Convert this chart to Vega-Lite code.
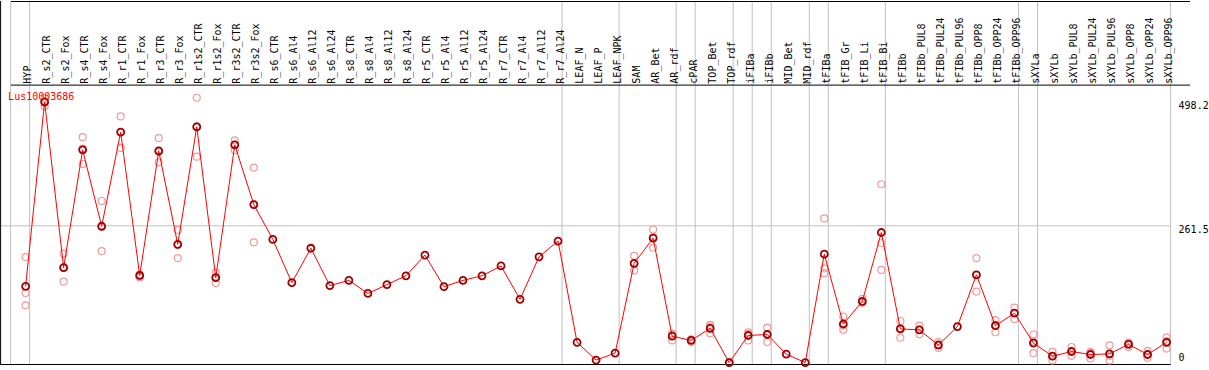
{
  "$schema": "https://vega.github.io/schema/vega-lite/v6.json",
  "width": 1209,
  "height": 370,
  "autosize": {"type": "fit", "contains": "padding"},
  "padding": 0,
  "background": "white",
  "config": {"view": {"stroke": null}},
  "datasets": {
    "means": [
      {"sample": "HYP", "mean": 145.8},
      {"sample": "R_s2_CTR", "mean": 498.2},
      {"sample": "R_s2_Fox", "mean": 181.5},
      {"sample": "R_s4_CTR", "mean": 406.7},
      {"sample": "R_s4_Fox", "mean": 260.6},
      {"sample": "R_r1_CTR", "mean": 440.6},
      {"sample": "R_r1_Fox", "mean": 166.5},
      {"sample": "R_r3_CTR", "mean": 404.9},
      {"sample": "R_r3_Fox", "mean": 226.1},
      {"sample": "R_r1s2_CTR", "mean": 450.6},
      {"sample": "R_r1s2_Fox", "mean": 162.2},
      {"sample": "R_r3s2_CTR", "mean": 416.1},
      {"sample": "R_r3s2_Fox", "mean": 302.0},
      {"sample": "R_s6_CTR", "mean": 235.5},
      {"sample": "R_s6_Al4", "mean": 152.8},
      {"sample": "R_s6_Al12", "mean": 218.6},
      {"sample": "R_s6_Al24", "mean": 147.1},
      {"sample": "R_s8_CTR", "mean": 157.1},
      {"sample": "R_s8_Al4", "mean": 132.1},
      {"sample": "R_s8_Al12", "mean": 149.0},
      {"sample": "R_s8_Al24", "mean": 165.9},
      {"sample": "R_r5_CTR", "mean": 205.4},
      {"sample": "R_r5_Al4", "mean": 145.2},
      {"sample": "R_r5_Al12", "mean": 157.1},
      {"sample": "R_r5_Al24", "mean": 165.9},
      {"sample": "R_r7_CTR", "mean": 184.7},
      {"sample": "R_r7_Al4", "mean": 120.8},
      {"sample": "R_r7_Al12", "mean": 202.2},
      {"sample": "R_r7_Al24", "mean": 232.3},
      {"sample": "LEAF_N", "mean": 38.6},
      {"sample": "LEAF_P", "mean": 4.7},
      {"sample": "LEAF_NPK", "mean": 17.9},
      {"sample": "SAM", "mean": 189.6},
      {"sample": "AR_Bet", "mean": 238.0},
      {"sample": "AR_rdf", "mean": 50.4},
      {"sample": "cPAR", "mean": 42.3},
      {"sample": "TOP_Bet", "mean": 65.5},
      {"sample": "TOP_rdf", "mean": 0},
      {"sample": "iFIBa", "mean": 51.7},
      {"sample": "iFIBb", "mean": 53.6},
      {"sample": "MID_Bet", "mean": 16.0},
      {"sample": "MID_rdf", "mean": 0},
      {"sample": "tFIBa", "mean": 207.3},
      {"sample": "tFIB_Gr", "mean": 73.7},
      {"sample": "tFIB_Li", "mean": 117.0},
      {"sample": "tFIB_Bi", "mean": 248.7},
      {"sample": "tFIBb", "mean": 64.3},
      {"sample": "tFIBb_PUL8", "mean": 62.5},
      {"sample": "tFIBb_PUL24", "mean": 33.5},
      {"sample": "tFIBb_PUL96", "mean": 68.7},
      {"sample": "tFIBb_OPP8", "mean": 167.8},
      {"sample": "tFIBb_OPP24", "mean": 70.5},
      {"sample": "tFIBb_OPP96", "mean": 94.4},
      {"sample": "sXYLa", "mean": 37.2},
      {"sample": "sXYLb", "mean": 12.2},
      {"sample": "sXYLb_PUL8", "mean": 21.1},
      {"sample": "sXYLb_PUL24", "mean": 15.4},
      {"sample": "sXYLb_PUL96", "mean": 16.6},
      {"sample": "sXYLb_OPP8", "mean": 34.8},
      {"sample": "sXYLb_OPP24", "mean": 15.4},
      {"sample": "sXYLb_OPP96", "mean": 38.6}
    ],
    "reps": [
      {"sample": "HYP", "value": 201.7}, {"sample": "HYP", "value": 133.2}, {"sample": "HYP", "value": 109.5},
      {"sample": "R_s2_CTR", "value": 490.1}, {"sample": "R_s2_CTR", "value": 499}, {"sample": "R_s2_CTR", "value": 506},
      {"sample": "R_s2_Fox", "value": 208.4}, {"sample": "R_s2_Fox", "value": 154.6}, {"sample": "R_s2_Fox", "value": 181.5},
      {"sample": "R_s4_CTR", "value": 431.2}, {"sample": "R_s4_CTR", "value": 379.6}, {"sample": "R_s4_CTR", "value": 409.2},
      {"sample": "R_s4_Fox", "value": 308.9}, {"sample": "R_s4_Fox", "value": 213.0}, {"sample": "R_s4_Fox", "value": 260.0},
      {"sample": "R_r1_CTR", "value": 470.7}, {"sample": "R_r1_CTR", "value": 410.5}, {"sample": "R_r1_CTR", "value": 440.6},
      {"sample": "R_r1_Fox", "value": 168.4}, {"sample": "R_r1_Fox", "value": 164.6}, {"sample": "R_r1_Fox", "value": 162.7},
      {"sample": "R_r3_CTR", "value": 429.3}, {"sample": "R_r3_CTR", "value": 382.8}, {"sample": "R_r3_CTR", "value": 402.5},
      {"sample": "R_r3_Fox", "value": 253.6}, {"sample": "R_r3_Fox", "value": 199.8}, {"sample": "R_r3_Fox", "value": 225.0},
      {"sample": "R_r1s2_CTR", "value": 506.4}, {"sample": "R_r1s2_CTR", "value": 393.6}, {"sample": "R_r1s2_CTR", "value": 451.8},
      {"sample": "R_r1s2_Fox", "value": 172.1}, {"sample": "R_r1s2_Fox", "value": 152.0}, {"sample": "R_r1s2_Fox", "value": 162.5},
      {"sample": "R_r3s2_CTR", "value": 424.8}, {"sample": "R_r3s2_CTR", "value": 406.0}, {"sample": "R_r3s2_CTR", "value": 417.0},
      {"sample": "R_r3s2_Fox", "value": 372.9}, {"sample": "R_r3s2_Fox", "value": 229.9}, {"sample": "R_r3s2_Fox", "value": 303.0},
      {"sample": "SAM", "value": 204.1}, {"sample": "SAM", "value": 189.0}, {"sample": "SAM", "value": 175.9},
      {"sample": "AR_Bet", "value": 254.4}, {"sample": "AR_Bet", "value": 219.7}, {"sample": "AR_Bet", "value": 240.0},
      {"sample": "AR_rdf", "value": 54.9}, {"sample": "AR_rdf", "value": 42.3}, {"sample": "AR_rdf", "value": 54.0},
      {"sample": "cPAR", "value": 44.2}, {"sample": "cPAR", "value": 39.1}, {"sample": "cPAR", "value": 43.5},
      {"sample": "TOP_Bet", "value": 71.9}, {"sample": "TOP_Bet", "value": 56.1}, {"sample": "TOP_Bet", "value": 68.5},
      {"sample": "TOP_rdf", "value": 0}, {"sample": "TOP_rdf", "value": 0}, {"sample": "TOP_rdf", "value": 0},
      {"sample": "iFIBa", "value": 57.9}, {"sample": "iFIBa", "value": 42.3}, {"sample": "iFIBa", "value": 55.0},
      {"sample": "iFIBb", "value": 66.8}, {"sample": "iFIBb", "value": 39.1}, {"sample": "iFIBb", "value": 55.0},
      {"sample": "tFIBa", "value": 275.6}, {"sample": "tFIBa", "value": 180.2}, {"sample": "tFIBa", "value": 170.8},
      {"sample": "tFIB_Gr", "value": 88.0}, {"sample": "tFIB_Gr", "value": 62.5}, {"sample": "tFIB_Gr", "value": 71.0},
      {"sample": "tFIB_Li", "value": 121.9}, {"sample": "tFIB_Li", "value": 114.4}, {"sample": "tFIB_Li", "value": 115.0},
      {"sample": "tFIB_Bi", "value": 340.9}, {"sample": "tFIB_Bi", "value": 228.6}, {"sample": "tFIB_Bi", "value": 177.2},
      {"sample": "tFIBb", "value": 79.4}, {"sample": "tFIBb", "value": 47.4}, {"sample": "tFIBb", "value": 66.0},
      {"sample": "tFIBb_PUL8", "value": 70.5}, {"sample": "tFIBb_PUL8", "value": 54.2}, {"sample": "tFIBb_PUL8", "value": 62.8},
      {"sample": "tFIBb_PUL24", "value": 39.1}, {"sample": "tFIBb_PUL24", "value": 27.8}, {"sample": "tFIBb_PUL24", "value": 33.5},
      {"sample": "tFIBb_OPP8", "value": 199.8}, {"sample": "tFIBb_OPP8", "value": 135.8}, {"sample": "tFIBb_OPP8", "value": 167.8},
      {"sample": "tFIBb_OPP24", "value": 81.3}, {"sample": "tFIBb_OPP24", "value": 57.9}, {"sample": "tFIBb_OPP24", "value": 72.3},
      {"sample": "tFIBb_OPP96", "value": 105.0}, {"sample": "tFIBb_OPP96", "value": 83.2}, {"sample": "tFIBb_OPP96", "value": 95.0},
      {"sample": "sXYLa", "value": 53.6}, {"sample": "sXYLa", "value": 17.9}, {"sample": "sXYLa", "value": 40.0},
      {"sample": "sXYLb", "value": 20.3}, {"sample": "sXYLb", "value": 4.1}, {"sample": "sXYLb", "value": 12.2},
      {"sample": "sXYLb_PUL8", "value": 29.7}, {"sample": "sXYLb_PUL8", "value": 12.8}, {"sample": "sXYLb_PUL8", "value": 21.0},
      {"sample": "sXYLb_PUL24", "value": 17.9}, {"sample": "sXYLb_PUL24", "value": 7.9}, {"sample": "sXYLb_PUL24", "value": 20.4},
      {"sample": "sXYLb_PUL96", "value": 32.9}, {"sample": "sXYLb_PUL96", "value": 4.1}, {"sample": "sXYLb_PUL96", "value": 12.8},
      {"sample": "sXYLb_OPP8", "value": 38.0}, {"sample": "sXYLb_OPP8", "value": 29.7}, {"sample": "sXYLb_OPP8", "value": 36.7},
      {"sample": "sXYLb_OPP24", "value": 22.2}, {"sample": "sXYLb_OPP24", "value": 9.0}, {"sample": "sXYLb_OPP24", "value": 15.0},
      {"sample": "sXYLb_OPP96", "value": 48.0}, {"sample": "sXYLb_OPP96", "value": 26.7}, {"sample": "sXYLb_OPP96", "value": 41.0}
    ],
    "seps": [
      {"after": "HYP"}, {"after": "R_r7_Al24"}, {"after": "LEAF_NPK"}, {"after": "AR_rdf"},
      {"after": "cPAR"}, {"after": "TOP_rdf"}, {"after": "iFIBa"}, {"after": "iFIBb"},
      {"after": "MID_rdf"}, {"after": "tFIBa"}, {"after": "tFIB_Bi"}, {"after": "tFIBb_OPP96"},
      {"after": "sXYLa"}, {"after": "sXYLb_OPP96"}
    ],
    "ticks": [
      {"v": 498.2, "label": "498.2"},
      {"v": 261.5, "label": "261.5"},
      {"v": 0, "label": "0"}
    ],
    "one": [{}]
  },
  "layer": [
    {
      "data": {"name": "seps"},
      "mark": {"type": "rule", "color": "#c0c0c0", "strokeWidth": 1, "xOffset": 4},
      "encoding": {
        "x": {
          "field": "after", "type": "nominal", "axis": null,
          "scale": {
            "type": "point",
            "domain": ["HYP","R_s2_CTR","R_s2_Fox","R_s4_CTR","R_s4_Fox","R_r1_CTR","R_r1_Fox","R_r3_CTR","R_r3_Fox","R_r1s2_CTR","R_r1s2_Fox","R_r3s2_CTR","R_r3s2_Fox","R_s6_CTR","R_s6_Al4","R_s6_Al12","R_s6_Al24","R_s8_CTR","R_s8_Al4","R_s8_Al12","R_s8_Al24","R_r5_CTR","R_r5_Al4","R_r5_Al12","R_r5_Al24","R_r7_CTR","R_r7_Al4","R_r7_Al12","R_r7_Al24","LEAF_N","LEAF_P","LEAF_NPK","SAM","AR_Bet","AR_rdf","cPAR","TOP_Bet","TOP_rdf","iFIBa","iFIBb","MID_Bet","MID_rdf","tFIBa","tFIB_Gr","tFIB_Li","tFIB_Bi","tFIBb","tFIBb_PUL8","tFIBb_PUL24","tFIBb_PUL96","tFIBb_OPP8","tFIBb_OPP24","tFIBb_OPP96","sXYLa","sXYLb","sXYLb_PUL8","sXYLb_PUL24","sXYLb_PUL96","sXYLb_OPP8","sXYLb_OPP24","sXYLb_OPP96"],
            "padding": 1.81579,
            "align": 0.38406
          }
        }
      }
    },
    {
      "data": {"name": "one"},
      "mark": {"type": "rule", "color": "#c0c0c0", "strokeWidth": 1, "xOffset": -15},
      "encoding": {"x": {"datum": "HYP", "type": "nominal"}}
    },
    {
      "data": {"name": "one"},
      "mark": {"type": "rule", "color": "#c0c0c0", "strokeWidth": 1, "xOffset": -25, "x2Offset": 4},
      "encoding": {
        "x": {"datum": "HYP", "type": "nominal"},
        "x2": {"datum": "sXYLb_OPP96"},
        "y": {"datum": 261.5, "type": "quantitative", "axis": null,
              "scale": {"type": "linear", "domain": [-4.70, 691.37], "nice": false, "zero": false}}
      }
    },
    {
      "data": {"name": "one"},
      "mark": {"type": "rule", "color": "black", "strokeWidth": 1},
      "encoding": {"y": {"datum": 690.4, "type": "quantitative"}}
    },
    {
      "data": {"name": "one"},
      "mark": {"type": "rule", "color": "black", "strokeWidth": 1},
      "encoding": {"y": {"datum": 530.5, "type": "quantitative"}}
    },
    {
      "data": {"name": "one"},
      "mark": {"type": "rule", "color": "black", "strokeWidth": 1, "xOffset": -25, "x2Offset": 4},
      "encoding": {
        "x": {"datum": "HYP", "type": "nominal"},
        "x2": {"datum": "sXYLb_OPP96"},
        "y": {"datum": -3.76, "type": "quantitative"}
      }
    },
    {
      "data": {"name": "one"},
      "mark": {"type": "rule", "color": "black", "strokeWidth": 1, "xOffset": -25},
      "encoding": {"x": {"datum": "HYP", "type": "nominal"}}
    },
    {
      "data": {"name": "reps"},
      "mark": {"type": "point", "shape": "circle", "filled": false, "color": "#f09a9a", "size": 49, "strokeWidth": 1.2, "opacity": 1},
      "encoding": {
        "x": {"field": "sample", "type": "nominal"},
        "y": {"field": "value", "type": "quantitative"}
      }
    },
    {
      "data": {"name": "means"},
      "mark": {"type": "line", "color": "#ff0000", "strokeWidth": 1},
      "encoding": {
        "x": {"field": "sample", "type": "nominal"},
        "y": {"field": "mean", "type": "quantitative"}
      }
    },
    {
      "data": {"name": "means"},
      "mark": {"type": "point", "shape": "circle", "filled": false, "color": "#a00000", "size": 49, "strokeWidth": 1.8, "opacity": 1},
      "encoding": {
        "x": {"field": "sample", "type": "nominal"},
        "y": {"field": "mean", "type": "quantitative"}
      }
    },
    {
      "data": {"name": "means"},
      "mark": {"type": "text", "angle": 270, "align": "left", "baseline": "middle", "font": "DejaVu Sans Mono", "fontSize": 10, "color": "black", "xOffset": 2.5},
      "encoding": {
        "x": {"field": "sample", "type": "nominal"},
        "y": {"datum": 533.3, "type": "quantitative"},
        "text": {"field": "sample"}
      }
    },
    {
      "data": {"values": [{"gene": "Lus10003686"}]},
      "mark": {"type": "text", "align": "left", "baseline": "alphabetic", "font": "DejaVu Sans Mono", "fontSize": 10, "color": "#ff0000", "xOffset": -17.5},
      "encoding": {
        "x": {"datum": "HYP", "type": "nominal"},
        "y": {"datum": 502.3, "type": "quantitative"},
        "text": {"field": "gene"}
      }
    },
    {
      "data": {"name": "ticks"},
      "transform": [{"filter": "datum.v > 0"}],
      "mark": {"type": "text", "align": "left", "baseline": "top", "dy": -1, "font": "DejaVu Sans Mono", "fontSize": 10, "color": "black", "xOffset": 12},
      "encoding": {
        "x": {"datum": "sXYLb_OPP96", "type": "nominal"},
        "y": {"field": "v", "type": "quantitative"},
        "text": {"field": "label"}
      }
    },
    {
      "data": {"name": "ticks"},
      "transform": [{"filter": "datum.v == 0"}],
      "mark": {"type": "text", "align": "left", "baseline": "bottom", "font": "DejaVu Sans Mono", "fontSize": 10, "color": "black", "xOffset": 12},
      "encoding": {
        "x": {"datum": "sXYLb_OPP96", "type": "nominal"},
        "y": {"field": "v", "type": "quantitative"},
        "text": {"field": "label"}
      }
    }
  ]
}
